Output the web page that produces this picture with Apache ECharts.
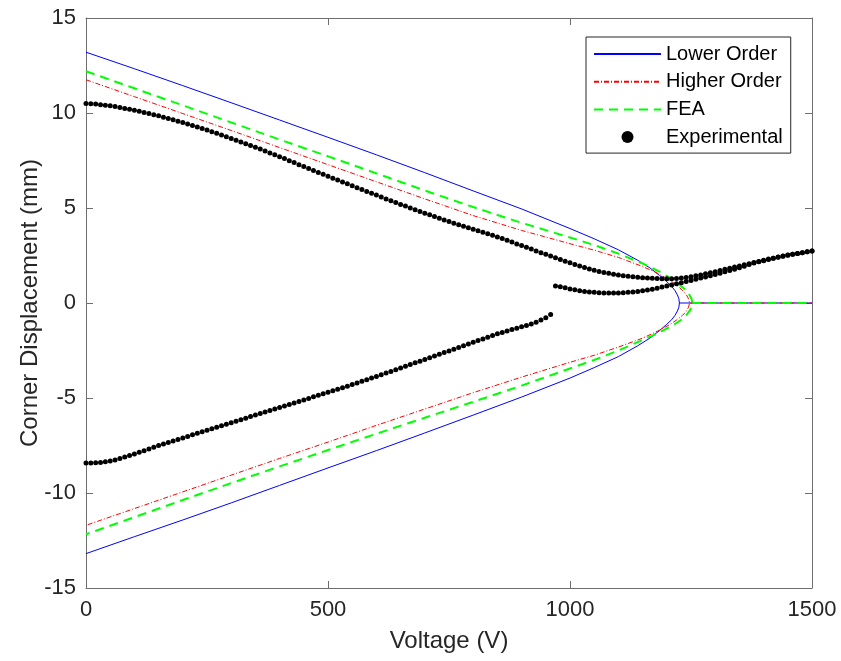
<!DOCTYPE html>
<html><head><meta charset="utf-8">
<script src="https://cdn.jsdelivr.net/npm/echarts@6/dist/echarts.min.js"></script>
<style>html,body{margin:0;padding:0;background:#fff}#c{width:841px;height:661px}</style>
</head><body><div id="c"></div>
<script>
// Theoretical curves: [voltage, displacement]
const lowerOrderUpper = [[0,13.2],[100,12.33],[200,11.44],[300,10.54],[400,9.63],[500,8.72],[600,7.8],[700,6.86],[800,5.9],[900,4.95],[1000,3.92],[1050,3.38],[1100,2.8],[1140,2.25],[1165,1.85],[1185,1.45],[1200,1.12],[1210,0.88],[1217,0.65],[1222,0.42],[1225,0.22],[1226,0]];
const lowerOrderLower = [[0,-13.19],[100,-12.3],[200,-11.42],[300,-10.52],[400,-9.6],[500,-8.68],[600,-7.77],[700,-6.84],[800,-5.9],[900,-4.95],[1000,-3.95],[1050,-3.4],[1100,-2.82],[1140,-2.25],[1165,-1.85],[1185,-1.45],[1200,-1.12],[1210,-0.88],[1217,-0.65],[1222,-0.42],[1225,-0.22],[1226,0]];
const lowerOrderZero = [[1226,0],[1500,0]];

const higherOrderUpper = [[0,11.75],[100,10.86],[200,9.97],[300,9.08],[400,8.18],[500,7.28],[600,6.38],[700,5.48],[800,4.6],[900,3.82],[1000,3.12],[1050,2.78],[1100,2.4],[1150,1.92],[1180,1.58],[1205,1.22],[1220,0.95],[1232,0.68],[1240,0.45],[1245,0.22],[1247,0]];
const higherOrderLower = [[0,-11.7],[100,-10.82],[200,-9.94],[300,-9.06],[400,-8.18],[500,-7.32],[600,-6.44],[700,-5.58],[800,-4.72],[900,-3.9],[1000,-3.12],[1050,-2.75],[1100,-2.32],[1150,-1.85],[1186,-1.42],[1205,-1.15],[1220,-0.9],[1232,-0.66],[1240,-0.45],[1245,-0.22],[1247,0]];
const higherOrderZero = [[1247,0],[1500,0]];

const feaUpper = [[0,12.2],[100,11.3],[200,10.4],[300,9.5],[400,8.6],[500,7.72],[600,6.82],[700,5.92],[800,5.05],[900,4.22],[1000,3.45],[1050,3.05],[1100,2.6],[1150,2.08],[1185,1.65],[1210,1.28],[1227,0.95],[1239,0.68],[1247,0.42],[1251,0.22],[1253,0]];
const feaLower = [[0,-12.17],[100,-11.27],[200,-10.37],[300,-9.48],[400,-8.6],[500,-7.74],[600,-6.88],[700,-6.04],[800,-5.2],[900,-4.35],[1000,-3.45],[1050,-3.0],[1100,-2.5],[1150,-1.95],[1185,-1.55],[1213,-1.17],[1230,-0.88],[1241,-0.62],[1248,-0.38],[1252,-0.18],[1253,0]];
const feaZero = [[1253,0],[1500,0]];

// Experimental points
const expUpperV = [0,10,20,30,40,50,60,70,80,90,100,110,120,130,140,150,160,170,180,190,200,210,220,230,240,250,260,270,280,290,300,310,320,330,340,350,360,370,380,390,400,410,420,430,440,450,460,470,480,490,500,510,520,530,540,550,560,570,580,590,600,610,620,630,640,650,660,670,680,690,700,710,720,730,740,750,760,770,780,790,800,810,820,830,840,850,860,870,880,890,900,910,920,930,940,950,960,970,980,990,1000,1010,1020,1030,1040,1050,1060,1070,1080,1090,1100,1110,1120,1130,1140,1150,1160,1170,1180,1190,1200,1210,1220,1230,1240,1250,1260,1270,1280,1290,1300,1310,1320,1330,1340,1350,1360,1370,1380,1390,1400,1410,1420,1430,1440,1450,1460,1470,1480,1490,1500];
const expUpperD = [10.50,10.49,10.47,10.44,10.41,10.38,10.34,10.29,10.24,10.20,10.15,10.09,10.03,9.97,9.91,9.85,9.78,9.71,9.64,9.57,9.50,9.42,9.34,9.26,9.18,9.10,9.01,8.93,8.84,8.75,8.66,8.57,8.48,8.38,8.29,8.20,8.10,8.00,7.90,7.80,7.70,7.60,7.49,7.39,7.28,7.18,7.08,6.97,6.87,6.77,6.67,6.57,6.47,6.37,6.27,6.17,6.07,5.97,5.87,5.77,5.68,5.58,5.48,5.38,5.29,5.19,5.10,5.00,4.91,4.82,4.73,4.64,4.55,4.46,4.37,4.29,4.20,4.12,4.04,3.96,3.88,3.80,3.72,3.64,3.56,3.48,3.39,3.30,3.21,3.11,3.02,2.93,2.84,2.74,2.65,2.56,2.47,2.38,2.29,2.20,2.12,2.03,1.95,1.87,1.79,1.72,1.66,1.61,1.56,1.51,1.47,1.44,1.41,1.38,1.35,1.33,1.31,1.30,1.29,1.28,1.28,1.28,1.29,1.31,1.34,1.38,1.43,1.48,1.54,1.59,1.65,1.71,1.77,1.83,1.89,1.95,2.01,2.07,2.13,2.19,2.25,2.31,2.36,2.42,2.47,2.52,2.56,2.61,2.65,2.70,2.74];
const expLowerV = [970,980,990,1000,1010,1020,1030,1040,1050,1060,1070,1080,1090,1100,1110,1120,1130,1140,1150,1160,1170,1180,1190,1200,1210,1220,1230,1240,1250,1260,1270,1280,1290,1300,1310,1320,1330,1340,1350,1360,1370,1380,1390,1400,1410,1420,1430,1440,1450,1460,1470,1480,1490,1500];
const expLowerD = [0.90,0.86,0.80,0.74,0.70,0.65,0.61,0.58,0.56,0.54,0.53,0.52,0.52,0.53,0.54,0.56,0.58,0.61,0.64,0.68,0.73,0.78,0.84,0.89,0.95,1.01,1.07,1.13,1.19,1.25,1.31,1.37,1.43,1.50,1.57,1.64,1.71,1.78,1.86,1.94,2.02,2.10,2.17,2.23,2.29,2.35,2.41,2.46,2.51,2.56,2.61,2.65,2.70,2.74];
const expNegV = [0,10,20,30,40,50,60,70,80,90,100,110,120,130,140,150,160,170,180,190,200,210,220,230,240,250,260,270,280,290,300,310,320,330,340,350,360,370,380,390,400,410,420,430,440,450,460,470,480,490,500,510,520,530,540,550,560,570,580,590,600,610,620,630,640,650,660,670,680,690,700,710,720,730,740,750,760,770,780,790,800,810,820,830,840,850,860,870,880,890,900,910,920,930,940,950,960];
const expNegD = [-8.42,-8.42,-8.41,-8.39,-8.36,-8.32,-8.26,-8.19,-8.11,-8.03,-7.95,-7.86,-7.77,-7.68,-7.59,-7.50,-7.42,-7.34,-7.26,-7.18,-7.10,-7.02,-6.94,-6.86,-6.78,-6.70,-6.62,-6.54,-6.46,-6.38,-6.30,-6.22,-6.14,-6.06,-5.98,-5.90,-5.82,-5.74,-5.66,-5.58,-5.50,-5.42,-5.34,-5.26,-5.18,-5.10,-5.02,-4.94,-4.86,-4.78,-4.70,-4.62,-4.54,-4.46,-4.38,-4.29,-4.21,-4.12,-4.04,-3.95,-3.87,-3.78,-3.69,-3.60,-3.51,-3.42,-3.33,-3.24,-3.15,-3.06,-2.97,-2.88,-2.79,-2.70,-2.61,-2.52,-2.43,-2.34,-2.25,-2.16,-2.07,-1.98,-1.89,-1.80,-1.71,-1.62,-1.55,-1.48,-1.40,-1.33,-1.25,-1.18,-1.10,-1.01,-0.90,-0.77,-0.60];

const xTicks = [0,500,1000,1500];
const yTicks = [-15,-10,-5,0,5,10,15];
const legendNames = ['Lower Order','Higher Order','FEA','Experimental'];

const FONT = 'Liberation Sans, Arial, Helvetica, sans-serif';
const TXT = '#262626';
const AXL = '#6e6e6e';
const pair = (v, d) => v.map((x, i) => [x, d[i]]);
const path = (up, lo) => up.concat(lo.slice().reverse());

function lineSeries(name, data, color, width, type, z) {
  return { name, type: 'line', data, symbol: 'circle', symbolSize: 0, showSymbol: false,
    lineStyle: { color, width, type }, itemStyle: { color: 'rgba(0,0,0,0)', borderWidth: 0 },
    emphasis: { disabled: true }, z, animation: false, clip: true };
}
function dotSeries(data) {
  return { name: 'Experimental', type: 'scatter', data, symbol: 'circle', symbolSize: 5,
    itemStyle: { color: '#000', opacity: 1 }, z: 10, animation: false };
}

const chart = echarts.init(document.getElementById('c'), null, { renderer: 'canvas' });
const axisCommon = {
  axisLine: { show: true, onZero: false, lineStyle: { color: AXL, width: 1 } },
  axisTick: { show: true, inside: true, length: 7, lineStyle: { color: AXL, width: 1 } },
  splitLine: { show: false }
};
chart.setOption({
  animation: false,
  backgroundColor: '#fff',
  grid: { left: 86, right: 29, top: 18, bottom: 73 },
  legend: {
    data: legendNames, orient: 'vertical', left: 586, top: 37,
    itemWidth: 67, itemHeight: 12, itemGap: 7.7,
    padding: [7, 8, 6, 7],
    borderColor: TXT, borderWidth: 1, borderRadius: 0, backgroundColor: '#fff',
    textStyle: { fontFamily: FONT, fontSize: 20, color: '#000', lineHeight: 20 }
  },
  xAxis: [
    Object.assign({ type: 'value', min: xTicks[0], max: xTicks[xTicks.length - 1], interval: 500,
      name: 'Voltage (V)', nameLocation: 'middle', nameGap: 41, nameMoveOverlap: false,
      nameTextStyle: { fontFamily: FONT, fontSize: 24, color: TXT },
      axisLabel: { fontFamily: FONT, fontSize: 22, color: TXT, margin: 11, formatter: v => String(v) } }, axisCommon),
    Object.assign({ type: 'value', position: 'top', min: 0, max: 1500, interval: 500,
      axisLabel: { show: false } }, axisCommon)
  ],
  yAxis: [
    Object.assign({ type: 'value', min: yTicks[0], max: yTicks[yTicks.length - 1], interval: 5,
      name: 'Corner Displacement (mm)', nameLocation: 'middle', nameGap: 44, nameMoveOverlap: false,
      nameTextStyle: { fontFamily: FONT, fontSize: 24, color: TXT },
      axisLabel: { fontFamily: FONT, fontSize: 22, color: TXT, margin: 10, formatter: v => String(v) } }, axisCommon),
    Object.assign({ type: 'value', position: 'right', min: -15, max: 15, interval: 5,
      axisLabel: { show: false } }, axisCommon)
  ],
  series: [
    lineSeries('Lower Order', path(lowerOrderUpper, lowerOrderLower), '#0000ff', 1, 'solid', 2),
    lineSeries('Lower Order', lowerOrderZero, '#0000ff', 1, 'solid', 2),
    lineSeries('Higher Order', path(higherOrderUpper, higherOrderLower), '#ff0000', 1, [5, 2, 1, 2], 3),
    lineSeries('Higher Order', higherOrderZero, '#ff0000', 1, [5, 2, 1, 2], 3),
    lineSeries('FEA', path(feaUpper, feaLower), '#00ff00', 2, [9, 6], 4),
    lineSeries('FEA', feaZero, '#00ff00', 2, [9, 6], 4),
    dotSeries(pair(expUpperV, expUpperD)),
    dotSeries(pair(expLowerV, expLowerD)),
    dotSeries(pair(expNegV, expNegD))
  ]
});
</script></body></html>
